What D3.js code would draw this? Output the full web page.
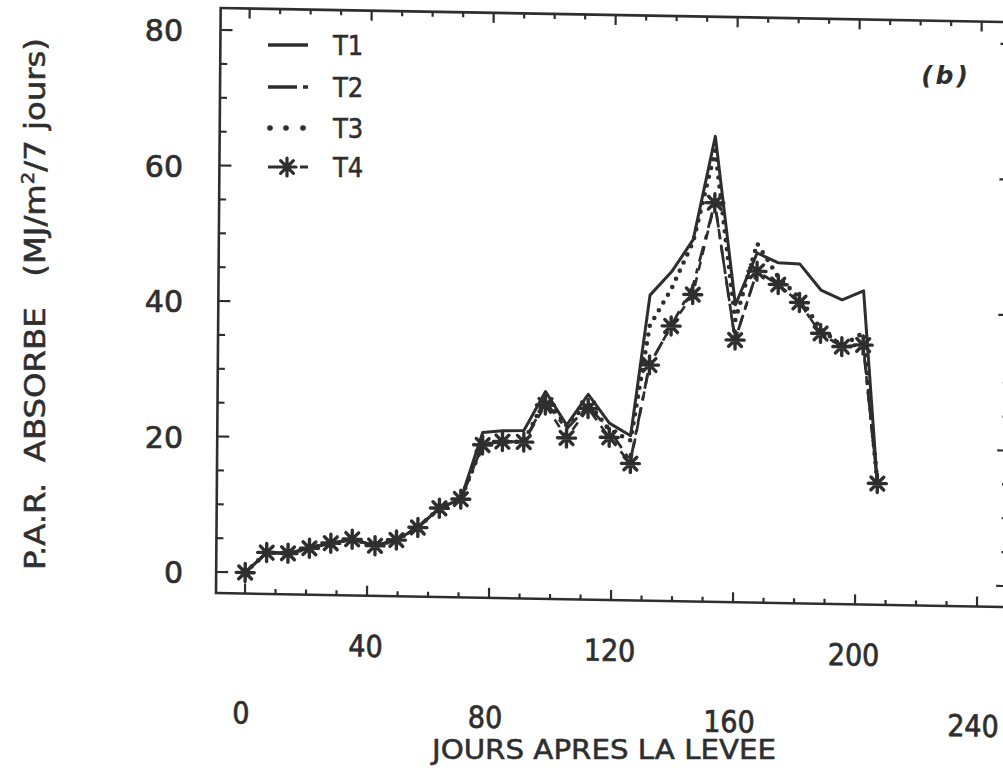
<!DOCTYPE html>
<html>
<head>
<meta charset="utf-8">
<script src="https://cdn.jsdelivr.net/npm/d3@7"></script>
<style>
  body { margin: 0; background: #ffffff; }
  svg { display: block; }
  text { fill: #2e2e2e; }
</style>
</head>
<body>
<svg id="chart" width="1003" height="770"></svg>
<script>
// ---------------- data ----------------
const days = [0, 7, 14, 21, 28, 35, 42.5, 49.5, 56.5, 63.5, 70.5, 77.5, 84, 91, 98, 105, 112, 119, 126,
              132, 139, 146, 153, 160, 167, 174, 181, 188, 195, 202, 207];
const seriesNames = ["T1", "T2", "T3", "T4"];
const t1 = [0, 3.0, 2.95, 3.75, 4.55, 5.2, 4.3, 5.2, 7.1, 10.0, 11.4, 21.3, 21.6, 21.7, 27.5, 22.6, 27.2, 23.0, 21.2,
            42.0, 45.5, 50.3, 65.6, 40.8, 48.5, 47.1, 47.0, 43.2, 41.8, 43.2, 14.8];
const t2 = [0, 3.0, 2.95, 3.75, 4.55, 5.2, 4.3, 5.2, 7.1, 10.0, 11.4, 19.45, 20.0, 20.0, 26.0, 22.0, 25.5, 22.0, 17.5,
            31.7, 37.5, 43.4, 55.8, 35.6, 45.8, 43.9, 41.3, 36.8, 34.9, 35.2, 14.8];
const t3 = [0, 3.0, 2.95, 3.75, 4.55, 5.2, 4.3, 5.2, 7.1, 10.0, 11.4, 19.45, 20.0, 20.0, 26.5, 22.5, 26.0, 22.0, 20.5,
            37.5, 43.0, 50.0, 63.5, 38.5, 49.9, 45.0, 42.0, 37.5, 35.0, 37.0, 15.0];
const t4 = [0, 3.0, 2.95, 3.75, 4.55, 5.2, 4.3, 5.2, 7.1, 10.0, 11.4, 19.45, 20.0, 20.0, 25.5, 20.7, 25.1, 20.9, 17.1,
            31.7, 37.5, 42.2, 55.8, 35.6, 45.8, 43.9, 41.3, 36.8, 34.9, 35.2, 14.8];
const xTickLabelsUpper = [40, 120, 200];
const xTickLabelsLower = [0, 80, 160, 240];
const yTickLabels = [0, 20, 40, 60, 80];
const xTitle = "JOURS APRES LA LEVEE";
const panelTag = "(b)";

// ---------------- layout ----------------
const ink = "#2e2e2e";
const svg = d3.select("#chart");
const L = 216, R = 1006, T = 8, B = 593;
const x = d3.scaleLinear().domain([0, 240]).range([245, 977]);
const y = d3.scaleLinear().domain([0, 80]).range([572, 30]);

// the scanned page is slightly skewed: horizontal lines fall to the right, vertical lines lean right
const sb = 0.0178, sa = 0.008;
const g = svg.append("g")
  .attr("transform", `matrix(1,${sb},${-sa},1,${sa * B},${-sb * L})`);

// frame
g.append("rect").attr("x", L).attr("y", T).attr("width", R - L).attr("height", B - T)
  .attr("fill", "none").attr("stroke", ink).attr("stroke-width", 2.6);

// ticks
const xt = d3.range(0, 241, 10);
const yt = d3.range(0, 81, 5);
g.selectAll(".xb").data(xt).join("line")
  .attr("x1", d => x(d)).attr("x2", d => x(d))
  .attr("y1", B).attr("y2", d => B - (d % 40 === 0 ? 10 : 5))
  .attr("stroke", ink).attr("stroke-width", 2.2);
g.selectAll(".xtop").data(xt).join("line")
  .attr("x1", d => x(d)).attr("x2", d => x(d))
  .attr("y1", T).attr("y2", d => T + (d % 40 === 0 ? 10 : 5))
  .attr("stroke", ink).attr("stroke-width", 2.2);
g.selectAll(".yl").data(yt).join("line")
  .attr("x1", L).attr("x2", d => L + (d % 20 === 0 ? 12 : 7))
  .attr("y1", d => y(d)).attr("y2", d => y(d))
  .attr("stroke", ink).attr("stroke-width", 2.2);
g.selectAll(".yr").data(yt).join("line")
  .attr("x1", R).attr("x2", d => R - (d % 20 === 0 ? 10 : 5))
  .attr("y1", d => y(d)).attr("y2", d => y(d))
  .attr("stroke", ink).attr("stroke-width", 2.2);

const condensed = "'DejaVu Sans Condensed', 'DejaVu Sans', sans-serif";

// x tick labels (staggered on two rows)
g.selectAll(".xlu").data(xTickLabelsUpper).join("text")
  .attr("x", d => x(d) - 1).attr("y", 654)
  .attr("text-anchor", "middle")
  .attr("font-family", condensed).attr("stroke", ink).attr("stroke-width", 0.7)
  .attr("font-size", 30).text(d => d);
g.selectAll(".xll").data(xTickLabelsLower).join("text")
  .attr("x", d => x(d) - 3).attr("y", 723)
  .attr("text-anchor", "middle")
  .attr("font-family", condensed).attr("stroke", ink).attr("stroke-width", 0.7)
  .attr("font-size", 30).text(d => d);

// x title (kept level, below the skewed panel)
svg.append("text").attr("x", 604).attr("y", 759)
  .attr("text-anchor", "middle")
  .attr("font-family", condensed).attr("stroke", ink).attr("stroke-width", 0.5)
  .attr("font-size", 27)
  .attr("textLength", 344).attr("lengthAdjust", "spacingAndGlyphs")
  .text(xTitle);

// series
const pts = arr => days.map((d, i) => [d, arr[i]]);
const line = d3.line().x(d => x(d[0])).y(d => y(d[1]));
const plot = g.append("g").attr("fill", "none").attr("stroke", ink)
  .attr("stroke-linejoin", "round");
plot.append("path").attr("d", line(pts(t4))).attr("stroke-width", 2.6)
  .attr("stroke-dasharray", "9,7");
plot.append("path").attr("d", line(pts(t2))).attr("stroke-width", 2.8)
  .attr("stroke-dasharray", "16,7,5,7");
plot.append("path").attr("d", line(pts(t3))).attr("stroke-width", 4.6)
  .attr("stroke-linecap", "round").attr("stroke-dasharray", "0,9");
plot.append("path").attr("d", line(pts(t1))).attr("stroke-width", 3);

const star = "M-9,0H9M0,-9V9M-6.4,-6.4L6.4,6.4M-6.4,6.4L6.4,-6.4";
g.selectAll(".mk").data(pts(t4)).join("path")
  .attr("transform", d => `translate(${x(d[0])},${y(d[1])})`)
  .attr("d", star).attr("fill", "none").attr("stroke", ink)
  .attr("stroke-width", 3.4).attr("stroke-linecap", "round");

// y tick labels
svg.selectAll(".ylab").data(yTickLabels).join("text")
  .attr("x", 183).attr("y", d => y(d) + 11)
  .attr("text-anchor", "end")
  .attr("font-family", "'DejaVu Sans', sans-serif").attr("stroke", ink).attr("stroke-width", 0.7)
  .attr("font-size", 30).text(d => d);

// y title
const yTitle = svg.append("text")
  .attr("transform", "translate(45,304) rotate(-90)")
  .attr("text-anchor", "middle")
  .attr("font-family", condensed).attr("stroke", ink).attr("stroke-width", 0.5)
  .attr("font-size", 28)
  .attr("textLength", 532).attr("lengthAdjust", "spacingAndGlyphs")
  .style("white-space", "pre");
yTitle.append("tspan").text("P.A.R.  ABSORBE   (MJ/m");
yTitle.append("tspan").attr("dy", -11).attr("font-size", 17).text("2");
yTitle.append("tspan").attr("dy", 11).text("/7 jours)");

// panel tag
svg.append("text").attr("x", 946).attr("y", 84)
  .attr("text-anchor", "middle")
  .attr("font-family", "'DejaVu Sans', sans-serif")
  .attr("font-style", "italic").attr("font-weight", "bold")
  .attr("font-size", 25).attr("letter-spacing", 3).text(panelTag);

// legend
const lg = svg.append("g");
const legY = [45, 87, 128, 167];
const lx0 = 268, lx1 = 308;
lg.append("line").attr("x1", lx0).attr("x2", lx1).attr("y1", legY[0]).attr("y2", legY[0])
  .attr("stroke", ink).attr("stroke-width", 3.4);
lg.append("line").attr("x1", lx0).attr("x2", lx1).attr("y1", legY[1]).attr("y2", legY[1])
  .attr("stroke", ink).attr("stroke-width", 3.4).attr("stroke-dasharray", "29,6,5,40");
lg.selectAll(".ld").data([270, 286, 303]).join("circle")
  .attr("cx", d => d).attr("cy", legY[2]).attr("r", 2.8).attr("fill", ink);
lg.append("line").attr("x1", lx0).attr("x2", lx1).attr("y1", legY[3]).attr("y2", legY[3])
  .attr("stroke", ink).attr("stroke-width", 3).attr("stroke-dasharray", "10,22,8,20");
lg.append("path").attr("transform", `translate(287,${legY[3]})`).attr("d", star)
  .attr("fill", "none").attr("stroke", ink).attr("stroke-width", 3.2).attr("stroke-linecap", "round");
lg.selectAll(".lt").data(seriesNames).join("text")
  .attr("x", 333).attr("y", (d, i) => legY[i] + 10)
  .attr("font-family", condensed).attr("stroke", ink).attr("stroke-width", 0.5)
  .attr("font-size", 27).text(d => d);
</script>
</body>
</html>
